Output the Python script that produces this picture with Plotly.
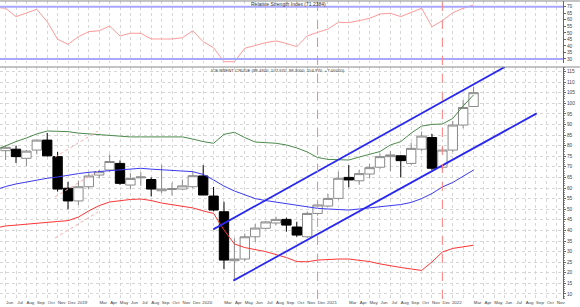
import plotly.graph_objects as go

# ---------------- data ----------------
months = ["2018-06","2018-07","2018-08","2018-09","2018-10","2018-11","2018-12",
          "2019-01","2019-02","2019-03","2019-04","2019-05","2019-06","2019-07","2019-08","2019-09","2019-10","2019-11","2019-12",
          "2020-01","2020-02","2020-03","2020-04","2020-05","2020-06","2020-07","2020-08","2020-09","2020-10","2020-11","2020-12",
          "2021-01","2021-02","2021-03","2021-04","2021-05","2021-06","2021-07","2021-08","2021-09","2021-10","2021-11","2021-12",
          "2022-01","2022-02","2022-03"]
opens  = [77.6,78.3,74.0,77.9,82.6,74.8,59.9, 53.9,60.6,66.1,68.5,71.6,61.4,64.8,64.0,58.7,59.3,59.5,60.6,
          65.7,56.2,48.8,25.7,26.5,37.0,41.0,43.5,45.2,41.6,37.0,48.0,
          51.5,55.1,65.0,63.4,66.6,69.8,74.8,75.2,71.6,78.3,83.8,69.8, 77.9,89.7,98.43]
highs  = [80.0,79.9,78.0,82.9,86.0,77.0,62.9, 63.5,67.5,68.5,75.8,73.0,67.0,67.5,65.0,71.0,62.5,64.0,67.7,
          70.8,60.5,53.5,36.3,38.5,43.0,44.5,46.5,46.0,44.1,48.8,53.5,
          57.2,67.7,70.8,68.5,71.3,76.3,77.5,75.6,81.4,86.6,85.5,79.0, 91.6,101.5,107.67]
lows   = [73.2,71.8,70.4,75.9,74.8,58.3,50.0, 52.0,59.5,64.5,67.5,61.5,59.5,61.0,56.0,57.5,56.5,59.0,60.0,
          57.5,49.0,21.7,16.3,25.5,34.5,40.5,42.5,39.4,37.0,36.5,47.0,
          51.0,54.5,60.3,61.5,64.5,69.0,68.0,65.0,71.0,77.5,68.5,68.5, 77.0,88.2,98.3]
closes = [79.2,74.8,77.4,82.6,75.2,59.5,53.9, 60.6,65.7,67.7,72.5,62.2,64.5,65.2,59.5,59.5,59.7,61.0,65.8,
          56.7,49.6,26.0,26.5,37.0,41.1,44.0,45.2,42.5,37.8,48.0,52.0,
          55.1,64.6,63.8,66.8,69.6,74.8,75.6,72.9,78.7,84.5,69.3,77.9, 89.7,97.97,104.97]

# indicator lines (start May 2018)
ind_months = ["2018-05"] + months
bb_upper = [77.9,80.0,81.9,83.6,85.5,86.9,86.9,86.6,85.9,85.5,85.0,84.7,84.3,84.1,84.1,84.1,84.2,84.2,84.1,83.1,
            81.9,81.1,85.3,86.3,83.8,81.7,81.4,81.1,80.3,78.9,77.0,74.4,73.5,73.2,73.2,74.6,76.0,77.2,80.3,81.9,
            85.9,89.2,90.0,90.2,92.8,98.7,103.9]
bb_mid   = [59.1,60.7,61.9,62.8,63.8,64.6,65.2,66.1,66.8,67.4,67.8,68.3,68.7,69.1,69.3,68.9,68.5,68.2,68.0,67.7,
            66.4,63.8,60.9,58.6,56.7,55.0,54.1,53.4,52.7,51.7,51.0,50.4,50.1,49.9,49.6,50.1,50.6,51.0,51.5,52.2,
            53.2,55.0,57.4,60.5,62.6,65.7,68.5]
bb_lower = [41.1,42.1,42.5,43.0,43.5,44.0,44.2,44.6,46.3,49.2,51.7,53.4,54.1,54.6,54.8,54.1,52.9,52.2,51.5,50.6,
            49.2,48.0,40.2,33.6,31.9,31.0,30.0,28.6,27.2,25.3,25.2,26.0,26.3,26.5,26.5,26.0,25.3,24.2,23.2,22.5,
            21.8,21.1,25.1,29.8,31.5,32.4,33.0]
rsi      = [69.5,68.8,62.4,65.0,68.0,58.5,45.1,41.2,47.1,50.9,51.6,55.2,47.6,49.7,49.7,45.3,45.3,45.3,46.3,51.6,
            43.2,38.6,27.9,27.9,38.2,40.3,42.5,43.8,41.9,39.4,47.6,50.4,52.9,58.1,57.8,59.3,61.1,64.4,65.0,62.4,
            65.4,68.8,54.7,59.3,65.4,68.8,71.3]

# trend channel end points (x in months since Jan 2018, y in price)
chan_upper_x = [24.97, 53.0];  chan_upper_y = [40.5, 117.1]
chan_lower_x = [26.9, 56.07];  chan_lower_y = [16.3, 95.2]
small_x = [9.75, 13.88]
small_up_y = [74.6, 86.9]
small_mid_y = [55.8, 68.0]
small_lo_y = [36.4, 48.7]
marker_months = ["2020-12", "2021-12"]

month_names = ["Jan","Feb","Mar","Apr","May","Jun","Jul","Aug","Sep","Oct","Nov","Dec"]

def midx(s):
    y, m = s.split("-")
    return (int(y) - 2018) * 12 + int(m) - 1

xc = [midx(s) for s in months]
xi = [midx(s) for s in ind_months]

tickvals = list(range(4, 59))
ticktext = []
for m in tickvals:
    mm = m % 12
    if mm == 0:
        ticktext.append(str(2018 + m // 12))
    elif mm == 1:
        ticktext.append("")
    else:
        ticktext.append(month_names[mm])

FONT = "Liberation Sans, Arial, sans-serif"
fig = go.Figure()

fig.add_trace(go.Candlestick(
    x=xc, open=opens, high=highs, low=lows, close=closes,
    increasing=dict(line=dict(color="#8a8a8a", width=1), fillcolor="white"),
    decreasing=dict(line=dict(color="black", width=1), fillcolor="black"),
    whiskerwidth=0, showlegend=False, xaxis="x", yaxis="y"))

fig.add_trace(go.Scatter(x=xi, y=bb_upper, mode="lines", line=dict(color="#4d8a4d", width=1), showlegend=False))
fig.add_trace(go.Scatter(x=xi, y=bb_mid, mode="lines", line=dict(color="#3a3af0", width=1), showlegend=False))
fig.add_trace(go.Scatter(x=xi, y=bb_lower, mode="lines", line=dict(color="#ff3535", width=1), showlegend=False))

fig.add_trace(go.Scatter(x=chan_upper_x, y=chan_upper_y, mode="lines", line=dict(color="#2828f0", width=1.8), showlegend=False))
fig.add_trace(go.Scatter(x=chan_lower_x, y=chan_lower_y, mode="lines", line=dict(color="#2828f0", width=1.8), showlegend=False))
for yy in (small_up_y, small_mid_y, small_lo_y):
    fig.add_trace(go.Scatter(x=small_x, y=yy, mode="lines", line=dict(color="#ffaaaa", width=1, dash="dot"), showlegend=False))

# RSI panel
fig.add_trace(go.Scatter(x=xi, y=rsi, mode="lines", line=dict(color="#ff9a9a", width=1), showlegend=False,
                         xaxis="x2", yaxis="y2"))

XR = [4.46, 58.6]
grid = dict(showgrid=True, gridcolor="#d6d6d6", griddash="dot", gridwidth=1)
fig.update_layout(
    width=580, height=307, margin=dict(l=0, r=17, t=0, b=8),
    paper_bgcolor="white", plot_bgcolor="white",
    font=dict(family=FONT, size=5, color="#333"),
    boxgap=0.1, boxgroupgap=0,
    xaxis=dict(range=XR, domain=[0, 1], anchor="y", tickmode="array", tickvals=tickvals, ticktext=ticktext,
               tickangle=0, tickfont=dict(size=4.4, color="#444"), ticklabelshift=4, ticks="", zeroline=False,
               rangeslider=dict(visible=False), **grid),
    xaxis2=dict(range=XR, domain=[0, 1], anchor="y2", matches="x", tickmode="array", tickvals=tickvals,
                showticklabels=False, ticks="", zeroline=False, **grid),
    yaxis=dict(domain=[0, 0.7759], range=[7.64, 117.08], side="right", tickmode="linear", tick0=10, dtick=5,
               tickfont=dict(size=4.8, color="#444"), ticks="outside", ticklen=2, tickcolor="#666",
               showline=True, linecolor="#666", linewidth=1, zeroline=False,
               minor=dict(dtick=1, ticklen=1, tickcolor="#888", ticks="outside"), **grid),
    yaxis2=dict(domain=[0.7893, 0.9967], range=[26.94, 74.36], side="right", tickmode="linear", tick0=30, dtick=5,
                tickfont=dict(size=4.8, color="#444"), ticks="outside", ticklen=2, tickcolor="#666",
                showline=True, linecolor="#666", linewidth=1, zeroline=False, showgrid=False),
)

shapes = []
# panel top borders
shapes.append(dict(type="line", xref="paper", yref="paper", x0=0, x1=1.03, y0=0.7759, y1=0.7759,
                   line=dict(color="#888", width=1)))
shapes.append(dict(type="line", xref="paper", yref="paper", x0=0, x1=1.03, y0=0.9967, y1=0.9967,
                   line=dict(color="#888", width=1)))
# RSI levels
for lv in (70, 30):
    shapes.append(dict(type="line", xref="x2 domain", yref="y2", x0=0, x1=1, y0=lv, y1=lv,
                       line=dict(color="#a8a8ff", width=2)))
# vertical dashed markers
for mk in marker_months:
    xm = midx(mk)
    shapes.append(dict(type="line", xref="x", yref="paper", x0=xm, x1=xm, y0=0, y1=0.9967,
                       line=dict(color="#ff8080", width=1, dash="dash")))
fig.update_layout(shapes=shapes)

fig.add_annotation(text="Relative Strength Index (71.2384)", xref="x", yref="y2", x=28.4, y=72.4,
                   xanchor="left", yanchor="middle", showarrow=False, font=dict(size=5, color="#333"))
fig.add_annotation(text="ICE BRENT CRUDE (98.4300, 107.670, 98.3000, 104.970, +7.00000)", xref="x", yref="y",
                   x=37.8, y=115.3, xanchor="right", yanchor="middle", showarrow=False,
                   font=dict(size=4.3, color="#333"))

fig.write_html("out.html")
